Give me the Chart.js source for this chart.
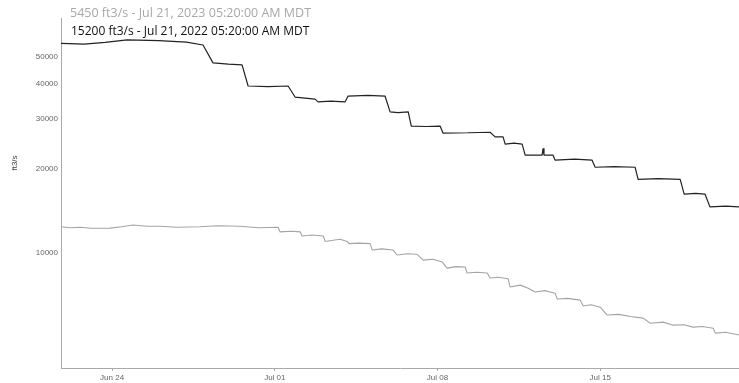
<!DOCTYPE html>
<html>
<head>
<meta charset="utf-8">
<script src="https://cdn.jsdelivr.net/npm/chart.js@4"></script>
<style>
  html, body { margin: 0; padding: 0; background: #fff; }
  #wrap { width: 739px; height: 383px; position: relative; }
</style>
</head>
<body>
<div id="wrap"><canvas id="c"></canvas></div>
<script>
// --- data (days counted from Jun 21 00:00) ---
const tickDays = [3, 10, 17, 24];
const tickLabels = ['Jun 24', 'Jul 01', 'Jul 08', 'Jul 15'];
const yTicks = [10000, 20000, 30000, 40000, 50000];

const days2022 = [0.80, 1.8, 2.7, 3.65, 5.0, 6.2, 6.91, 7.34, 8.0, 8.59, 8.85, 9.7, 10.57, 10.87, 11.73, 11.86,
  12.4, 13.02, 13.15, 14.0, 14.74, 14.96, 15.3, 15.74, 15.87, 16.5, 17.11, 17.24, 18.3, 19.26, 19.48, 19.82, 19.91, 20.3, 20.64, 20.77,
  21.50, 21.54, 21.58, 21.97, 22.06, 22.9, 23.65, 23.78, 24.6, 25.50, 25.63, 26.5, 27.44, 27.61, 28.1, 28.51, 28.72, 29.4, 29.97];
const flow2022 = [55700, 55400, 56200, 57300, 57000, 56300, 55000, 47500, 47000, 46700, 39300, 39100, 39300, 35900, 35300, 34500,
  34700, 34500, 36200, 36400, 36200, 31800, 31600, 31800, 28300, 28200, 28300, 26700, 26800, 26900, 25900, 25900, 24400, 24600, 24400, 22300,
  22300, 23600, 22300, 22300, 21400, 21600, 21400, 20200, 20300, 20200, 18300, 18400, 18300, 16200, 16300, 16200, 14600, 14700, 14600];

const days2023 = [0.80, 1.2, 1.62, 2.1, 2.91, 3.4, 3.90, 4.5, 5.06, 5.8, 6.78, 7.5, 8.50, 9.3, 10.14, 10.22, 10.7, 11.09,
  11.17, 11.6, 12.08, 12.17, 12.5, 12.81, 13.11, 13.19, 13.6, 14.10, 14.19, 14.6, 15.09, 15.26, 15.7, 16.12, 16.38,
  16.8, 17.2, 17.41, 17.8, 18.19, 18.27, 18.7, 19.14, 19.26, 19.6, 20.04, 20.12, 20.56, 20.9, 21.20, 21.6, 22.06,
  22.15, 22.6, 23.14, 23.27, 23.6, 24.0, 24.30, 24.8, 25.3, 25.85, 26.15, 26.71, 27.14, 27.6, 28.0, 28.4, 28.86,
  28.95, 29.4, 29.97];
const flow2023 = [12400, 12300, 12350, 12250, 12270, 12400, 12580, 12450, 12450, 12350, 12400, 12500, 12450, 12300, 12350, 11900, 11950, 11900,
  11500, 11600, 11500, 11000, 11100, 11200, 11000, 10800, 10850, 10800, 10250, 10350, 10250, 9840, 9950, 9900, 9440,
  9500, 9290, 8840, 8950, 8920, 8490, 8550, 8490, 8150, 8200, 8100, 7570, 7690, 7500, 7270, 7350, 7200,
  6860, 6900, 6800, 6480, 6550, 6420, 6020, 6050, 5950, 5870, 5630, 5680, 5540, 5560, 5450, 5480, 5400,
  5190, 5230, 5110];

const header2023 = '5450 ft3/s - Jul 21, 2023 05:20:00 AM MDT';
const header2022 = '15200 ft3/s - Jul 21, 2022 05:20:00 AM MDT';

const toPts = (xs, ys) => xs.map((x, i) => ({ x: x, y: ys[i] }));

// headers and axis title drawn on top
const textPlugin = {
  id: 'texts',
  afterDraw(chart) {
    const ctx = chart.ctx;
    ctx.save();
    ctx.textBaseline = 'middle';
    ctx.textAlign = 'left';
    ctx.font = '12.5px "Open Sans", sans-serif';
    ctx.fillStyle = '#a8a8a8';
    ctx.fillText(header2023, 70, 13);
    ctx.font = '12px "Open Sans", sans-serif';
    ctx.fillStyle = '#111';
    ctx.fillText(header2022, 71, 32);
    ctx.translate(15, 163);
    ctx.rotate(-Math.PI / 2);
    ctx.textAlign = 'center';
    ctx.font = '8px "Liberation Sans", sans-serif';
    ctx.fillStyle = '#444';
    ctx.fillText('ft3/s', 0, 0);
    ctx.restore();
  }
};

new Chart(document.getElementById('c'), {
  type: 'line',
  data: {
    datasets: [
      {
        label: '2022',
        data: toPts(days2022, flow2022),
        borderColor: '#222',
        borderWidth: 1.2,
        borderJoinStyle: 'bevel',
        pointRadius: 0,
        tension: 0
      },
      {
        label: '2023',
        data: toPts(days2023, flow2023),
        borderColor: '#a4a4a4',
        borderWidth: 1.1,
        borderJoinStyle: 'bevel',
        pointRadius: 0,
        tension: 0
      }
    ]
  },
  options: {
    responsive: true,
    maintainAspectRatio: false,
    animation: false,
    layout: { padding: { top: 18, right: 0, left: 0, bottom: 0 } },
    plugins: { legend: { display: false }, tooltip: { enabled: false } },
    scales: {
      x: {
        type: 'linear',
        min: 0.8,
        max: 29.97,
        afterBuildTicks: s => { s.ticks = tickDays.map(v => ({ value: v })); },
        afterFit: s => { s.height = 15; },
        ticks: {
          autoSkip: false,
          maxRotation: 0,
          padding: 2,
          color: '#666',
          font: { family: 'Liberation Sans', size: 8 },
          callback: (v) => tickLabels[tickDays.indexOf(v)]
        },
        grid: { display: true, drawOnChartArea: false, drawTicks: true, tickLength: 3, color: '#aaa' },
        border: { display: true, color: '#aaa', width: 1, dash: [2, 1] }
      },
      y: {
        type: 'logarithmic',
        min: 3900,
        max: 68600,
        afterBuildTicks: s => { s.ticks = yTicks.map(v => ({ value: v })); },
        afterFit: s => { s.width = 61; },
        ticks: {
          autoSkip: false,
          padding: 3,
          color: '#666',
          font: { family: 'Liberation Sans', size: 8 },
          callback: (v) => String(v)
        },
        grid: { display: true, drawOnChartArea: false, drawTicks: false, color: '#aaa' },
        border: { display: true, color: '#aaa', width: 1, dash: [2, 1] }
      }
    }
  },
  plugins: [textPlugin]
});
</script>
</body>
</html>
